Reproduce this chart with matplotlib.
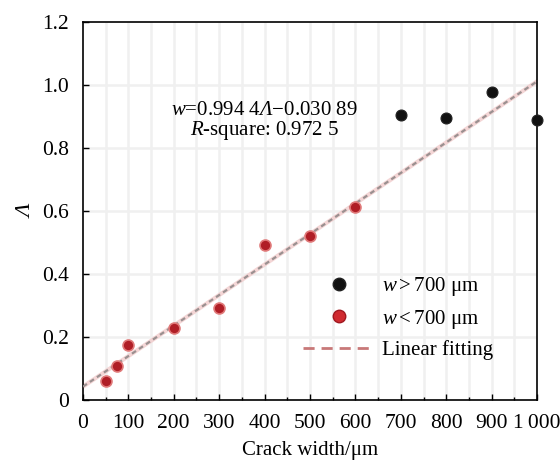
import matplotlib
matplotlib.use("Agg")
import matplotlib.pyplot as plt
from matplotlib.lines import Line2D
from matplotlib.ticker import MultipleLocator, FuncFormatter

# crack width (um) and Lambda values
w_small = [50, 75, 100, 200, 300, 400, 500, 600]
lam_small = [0.059, 0.109, 0.175, 0.228, 0.291, 0.492, 0.521, 0.613]
w_large = [700, 800, 900, 1000]
lam_large = [0.903, 0.896, 0.976, 0.889]

# linear fit as drawn (Lambda = a + b * w)
fit_a = 0.042
fit_b = 0.000969
fit_x = [0, 1000]

plt.rcParams["font.family"] = ["Liberation Serif", "DejaVu Sans"]
plt.rcParams["mathtext.fontset"] = "custom"
plt.rcParams["mathtext.rm"] = "Liberation Serif"
plt.rcParams["mathtext.it"] = "Liberation Serif:italic"
# mathtext forces capital greek upright in \mathit, so borrow sf for an italic Lambda
plt.rcParams["mathtext.sf"] = "Liberation Serif:italic"

fig = plt.figure(figsize=(5.6, 4.65), dpi=100)
ax = fig.add_axes([0.148, 0.140, 0.811, 0.813])

ax.set_xlim(0, 1000)
ax.set_ylim(0, 1.2)

# faint grid
for gx in range(50, 1000, 50):
    ax.axvline(gx, color="#f0f0f0", lw=1.8, zorder=0)
for gy in [0.2, 0.4, 0.6, 0.8, 1.0]:
    ax.axhline(gy, color="#f0f0f0", lw=1.8, zorder=0)

fy = [fit_a + fit_b * x for x in fit_x]
ax.plot(fit_x, fy, color="#f2cccc", lw=3.0, alpha=0.8, zorder=2)
ax.plot(fit_x, fy, color="#9a9090", lw=1.6, ls=(0, (2.2, 1.6)), zorder=3)

ax.scatter(w_small, lam_small, s=62, c="#b01e26", edgecolors="#e07a7a",
           linewidths=1.2, zorder=4)
ax.scatter(w_large, lam_large, s=62, c="#111111", edgecolors="#222222",
           linewidths=0.8, zorder=4, clip_on=False)

ax.xaxis.set_major_locator(MultipleLocator(100))
ax.xaxis.set_minor_locator(MultipleLocator(50))
ax.yaxis.set_major_locator(MultipleLocator(0.2))


def xfmt(v, pos):
    v = int(round(v))
    return "1\u2009000" if v == 1000 else str(v)


def yfmt(v, pos):
    return "0" if abs(v) < 1e-9 else f"{v:.1f}"


ax.xaxis.set_major_formatter(FuncFormatter(xfmt))
ax.yaxis.set_major_formatter(FuncFormatter(yfmt))
ax.tick_params(axis="both", which="major", direction="in", length=4,
               width=1, labelsize=15.5, top=False, right=False, pad=10)
ax.tick_params(axis="x", which="minor", direction="in", length=2.5, width=1)
for sp in ax.spines.values():
    sp.set_linewidth(1.2)

ax.set_xlabel("Crack width/\u03bcm", fontsize=15, labelpad=6)
ax.set_ylabel("\u039b", fontsize=16, style="italic", labelpad=4)

ax.text(400, 0.92, "$\\mathit{w}$=0.994 4$\\mathsf{\u039b}$\u22120.030 89",
        ha="center", va="center", fontsize=15)
ax.text(400, 0.855, r"$\mathit{R}$-square: 0.972 5", ha="center", va="center",
        fontsize=15)

handles = [
    Line2D([], [], ls="none", marker="o", ms=9, mfc="#111111", mec="#222222"),
    Line2D([], [], ls="none", marker="o", ms=9, mfc="#d02a30", mec="#a01820"),
    Line2D([], [], color="#c87878", lw=2, ls=(0, (4, 2.5))),
]
labels = [r"$\mathit{w}>$700 μm", r"$\mathit{w}<$700 μm", "Linear fitting"]
ax.legend(handles, labels, loc="upper left", bbox_to_anchor=(0.485, 0.33),
          frameon=False, fontsize=15, handlelength=3.4, labelspacing=0.45,
          handletextpad=0.4, borderpad=0, borderaxespad=0)

fig.savefig("out.png", dpi=100)
